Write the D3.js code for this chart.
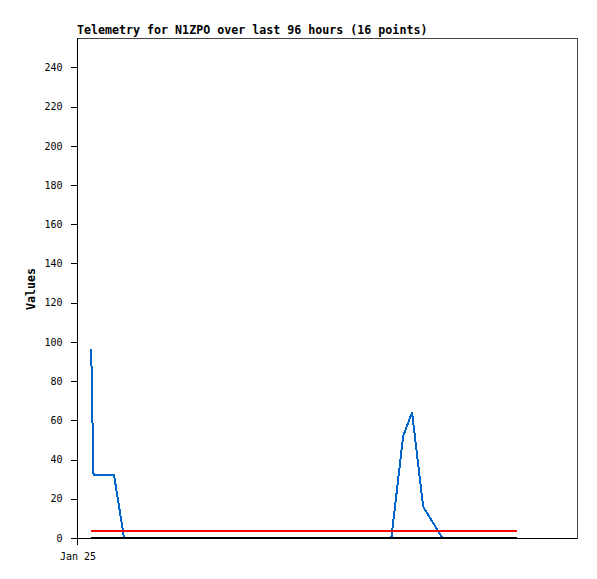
<!DOCTYPE html>
<html>
<head>
<title>Telemetry chart</title>
<script src="https://cdn.jsdelivr.net/npm/d3@7"></script>
<style>
body { margin: 0; background: #fff; }
svg { display: block; }
</style>
</head>
<body>
<svg id="chart" width="597" height="579"></svg>
<script>
// telemetry samples (time, value)
var telemTimes = [
  '2024-01-25T03:09', '2024-01-25T03:23', '2024-01-25T03:33', '2024-01-25T03:44',
  '2024-01-25T08:21', '2024-01-25T10:36', '2024-01-26T12:00', '2024-01-27T08:00',
  '2024-01-27T22:50', '2024-01-28T01:30', '2024-01-28T03:30', '2024-01-28T06:00',
  '2024-01-28T10:20', '2024-01-28T18:00', '2024-01-29T00:00', '2024-01-29T03:09'
];
var telemValues = [96.5, 80, 48, 32, 32, 0, 0, 0, 0, 52, 64, 16, 0, 0, 0, 0];

// reference lines spanning the sample window
var refTimes = ['2024-01-25T03:09', '2024-01-29T03:09'];
var redValues = [3.5, 3.5];
var blackValues = [0, 0];

var yTicks = [0, 20, 40, 60, 80, 100, 120, 140, 160, 180, 200, 220, 240];
var xTickLabels = ['Jan 25'];
var titleText = 'Telemetry for N1ZPO over last 96 hours (16 points)';

var parse = d3.timeParse('%Y-%m-%dT%H:%M');
var margin = {left: 77, top: 38, right: 20, bottom: 41};
var width = 597 - margin.left - margin.right;
var height = 579 - margin.top - margin.bottom;

var t0 = parse('2024-01-25T00:00');
var x = d3.scaleTime()
  .domain([t0, d3.timeMinute.offset(t0, 6760)])
  .range([0, width]);
var y = d3.scaleLinear().domain([0, 255]).range([height, 0]);

var svg = d3.select('#chart');
var g = svg.append('g').attr('transform', 'translate(' + margin.left + ',' + margin.top + ')');

// frame
g.append('rect')
  .attr('x', 0.5).attr('y', 0.5)
  .attr('width', width).attr('height', height)
  .attr('fill', 'none').attr('stroke', '#444')
  .attr('shape-rendering', 'crispEdges');

// y axis
var yAxis = d3.axisLeft(y).tickValues(yTicks).tickSize(7).tickPadding(8);
var ya = g.append('g').attr('transform', 'translate(0.5,0)').call(yAxis);
ya.select('.domain').remove();
ya.append('line').attr('x1', 0).attr('x2', 0).attr('y1', 0).attr('y2', height + 7)
  .attr('stroke', '#000');
ya.selectAll('line').attr('shape-rendering', 'crispEdges');
ya.selectAll('text')
  .attr('font-family', 'DejaVu Sans Mono, monospace')
  .attr('font-size', '10px').attr('fill', '#000');

// x axis
var xa = g.append('g').attr('transform', 'translate(0,' + (height + 0.5) + ')');
xa.append('line').attr('x1', 0).attr('x2', width).attr('stroke', '#000')
  .attr('shape-rendering', 'crispEdges');
xa.selectAll('text.xl').data(xTickLabels).enter().append('text')
  .attr('class', 'xl')
  .attr('x', x(t0) + 1)
  .attr('y', 21)
  .attr('text-anchor', 'middle')
  .attr('font-family', 'DejaVu Sans Mono, monospace')
  .attr('font-size', '10px')
  .text(function(d) { return d; });

// series
var line = d3.line()
  .x(function(d) { return x(d.t); })
  .y(function(d) { return y(d.v); });

var telem = telemTimes.map(function(t, i) { return {t: parse(t), v: telemValues[i]}; });
var red = refTimes.map(function(t, i) { return {t: parse(t), v: redValues[i]}; });
var black = refTimes.map(function(t, i) { return {t: parse(t), v: blackValues[i]}; });

g.append('path').datum(telem).attr('d', line)
  .attr('fill', 'none').attr('stroke', '#0066cc').attr('stroke-width', 2)
  .attr('shape-rendering', 'crispEdges');
g.append('path').datum(red).attr('d', line)
  .attr('fill', 'none').attr('stroke', '#ff0000').attr('stroke-width', 2)
  .attr('transform', 'translate(0,-0.5)')
  .attr('shape-rendering', 'crispEdges');
g.append('path').datum(black).attr('d', line)
  .attr('fill', 'none').attr('stroke', '#000').attr('stroke-width', 2)
  .attr('shape-rendering', 'crispEdges');

// title
svg.append('text')
  .attr('x', margin.left).attr('y', 34)
  .attr('font-family', 'DejaVu Sans Mono, monospace')
  .attr('font-weight', 'bold').attr('font-size', '11.65px')
  .text(titleText);

// y label
svg.append('text')
  .attr('transform', 'translate(35,289) rotate(-90)')
  .attr('text-anchor', 'middle')
  .attr('font-family', 'DejaVu Sans Mono, monospace')
  .attr('font-weight', 'bold').attr('font-size', '11.65px')
  .text('Values');
</script>
</body>
</html>
